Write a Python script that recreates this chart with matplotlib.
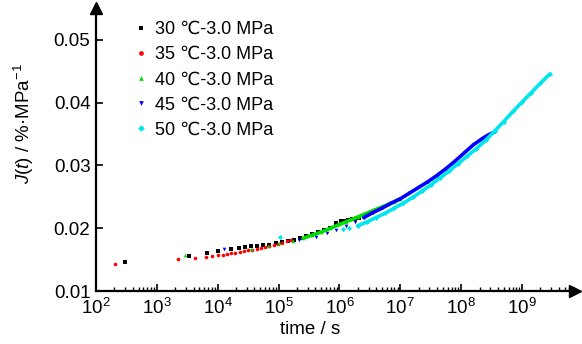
import numpy as np
import matplotlib
matplotlib.use("Agg")
import matplotlib.pyplot as plt

plt.rcParams['font.family'] = ['Liberation Sans', 'DejaVu Sans']
plt.rcParams['mathtext.fontset'] = 'custom'
plt.rcParams['mathtext.rm'] = 'Liberation Sans'
plt.rcParams['mathtext.it'] = 'Liberation Sans:italic'

labels = ["30 \u2103-3.0 MPa", "35 \u2103-3.0 MPa", "40 \u2103-3.0 MPa",
          "45 \u2103-3.0 MPa", "50 \u2103-3.0 MPa"]
colors = ["#000000", "#ff0000", "#00dd00", "#0000ff", "#00e5ee"]
markers = ["s", "o", "^", "v", "D"]

logt_30 = [2.48, 3.53, 3.83, 4.00, 4.22, 4.35, 4.45, 4.55, 4.65, 4.75, 4.85, 4.95,
           5.05, 5.15, 5.25, 5.35, 5.45, 5.55, 5.65, 5.75, 5.85, 5.95, 6.02, 6.08,
           6.14, 6.20, 6.26, 6.32]
J_30 = [0.0146, 0.0156, 0.0161, 0.0164, 0.0167, 0.0169, 0.0170, 0.0171, 0.0172, 0.0173,
        0.0174, 0.0176, 0.0178, 0.0180, 0.0182, 0.0185, 0.0188, 0.0191, 0.0194, 0.0197,
        0.0201, 0.0209, 0.0211, 0.0212, 0.0213, 0.0214, 0.0215, 0.0216]

logt_35 = [2.31, 3.35, 3.63, 3.80, 3.91, 4.01, 4.08, 4.15, 4.22, 4.29, 4.36, 4.43, 4.50,
           4.57, 4.64, 4.71, 4.78, 4.85, 4.92, 4.99, 5.06, 5.13, 5.20]
J_35 = [0.0143, 0.0151, 0.0153, 0.0154, 0.0156, 0.0157, 0.0158, 0.0159, 0.0160, 0.0161,
        0.0162, 0.0163, 0.0165, 0.0166, 0.0167, 0.0168, 0.0170, 0.0171, 0.0173, 0.0175,
        0.0177, 0.0179, 0.0181]

logt_40 = [3.47, 4.55, 4.82, 5.00, 5.23, 5.40, 5.55, 5.70, 5.85, 6.00, 6.10, 6.20, 6.30,
           6.40, 6.50, 6.60, 6.70, 6.80, 6.90, 7.00]
J_40 = [0.0157, 0.0167, 0.0172, 0.0176, 0.0180, 0.0184, 0.0189, 0.0194, 0.0200, 0.0206,
        0.0210, 0.0214, 0.0218, 0.0222, 0.0226, 0.0230, 0.0234, 0.0238, 0.0242, 0.0247]

logt_45 = [4.11, 5.34, 5.62, 5.80, 5.95, 6.10, 6.25, 6.40, 6.55, 6.70, 6.85, 7.00, 7.15,
           7.30, 7.45, 7.60, 7.75, 7.90, 8.05, 8.20, 8.35, 8.45, 8.56]
J_45 = [0.0167, 0.0181, 0.0186, 0.0192, 0.0198, 0.0203, 0.0210, 0.0217, 0.0225, 0.0232,
        0.0240, 0.0247, 0.0256, 0.0265, 0.0274, 0.0284, 0.0295, 0.0307, 0.0320, 0.0333,
        0.0343, 0.0349, 0.0354]

logt_50 = [5.03, 6.05, 6.15, 6.30, 6.45, 6.60, 6.75, 6.90, 7.05, 7.20, 7.35, 7.50, 7.65,
           7.80, 7.95, 8.10, 8.25, 8.40, 8.55, 8.70, 8.85, 9.00, 9.15, 9.30, 9.46]
J_50 = [0.0186, 0.0199, 0.0201, 0.0204, 0.0210, 0.0217, 0.0224, 0.0232, 0.0240, 0.0249,
        0.0259, 0.0269, 0.0280, 0.0291, 0.0303, 0.0315, 0.0327, 0.0340, 0.0355, 0.0370,
        0.0386, 0.0401, 0.0416, 0.0431, 0.0446]

series_logt = [logt_30, logt_35, logt_40, logt_45, logt_50]
series_J = [J_30, J_35, J_40, J_45, J_50]
dense_from = [None, None, 5.4, 6.4, 6.3]

fig = plt.figure(figsize=(5.82, 3.44), dpi=100)
ax = fig.add_axes([0.165, 0.154, 0.823, 0.823])

for lt, J, c, m, lab, d in zip(series_logt, series_J, colors, markers, labels, dense_from):
    t = 10 ** np.array(lt)
    J = np.array(J)
    ax.plot(t, J, linestyle='none', marker=m, color=c, markersize=2.6,
            markeredgewidth=0, label=lab)
    if d is not None:
        sel = np.array(lt) >= d
        ax.plot(t[sel], J[sel], '-', color=c, lw=2.6, solid_capstyle='round')

ax.set_xscale('log')
ax.set_xlim(1e2, 10 ** 9.87)
ax.set_ylim(0.01, 0.0551)
ax.set_yticks([0.01, 0.02, 0.03, 0.04, 0.05])
ax.set_yticklabels(["0.01", "0.02", "0.03", "0.04", "0.05"])
ax.set_xticks([1e2, 1e3, 1e4, 1e5, 1e6, 1e7, 1e8, 1e9])
ax.xaxis.set_minor_locator(matplotlib.ticker.LogLocator(base=10, subs=np.arange(2, 10)))
ax.xaxis.set_minor_formatter(matplotlib.ticker.NullFormatter())

for s in ['top', 'right']:
    ax.spines[s].set_visible(False)
for s in ['left', 'bottom']:
    ax.spines[s].set_linewidth(1.6)
ax.tick_params(axis='both', which='major', direction='in', length=5, width=1.2,
               labelsize=13.5)
ax.tick_params(axis='y', which='major', pad=4)
ax.tick_params(axis='x', which='major', pad=5)
ax.tick_params(axis='x', which='minor', direction='in', length=3, width=1)
ax.tick_params(axis='y', which='minor', left=False)

ax.plot([0], [1], marker='^', color='k', markersize=9, transform=ax.transAxes, clip_on=False)
ax.plot([1], [0], marker='>', color='k', markersize=9, transform=ax.transAxes, clip_on=False)

ax.set_xlabel("time / s", fontsize=13.5)
ax.xaxis.set_label_coords(0.447, -0.105)
ax.set_ylabel(r"$J(t)$ / %·MPa$^{-1}$", fontsize=13.5)
ax.yaxis.set_label_coords(-0.125, 0.59)

leg = ax.legend(loc='upper left', bbox_to_anchor=(0.062, 0.992), frameon=False,
                fontsize=13, handlelength=0.5, handletextpad=0.5, labelspacing=0.45,
                markerscale=1.3, borderaxespad=0.2)

fig.savefig("out.png", dpi=100)
